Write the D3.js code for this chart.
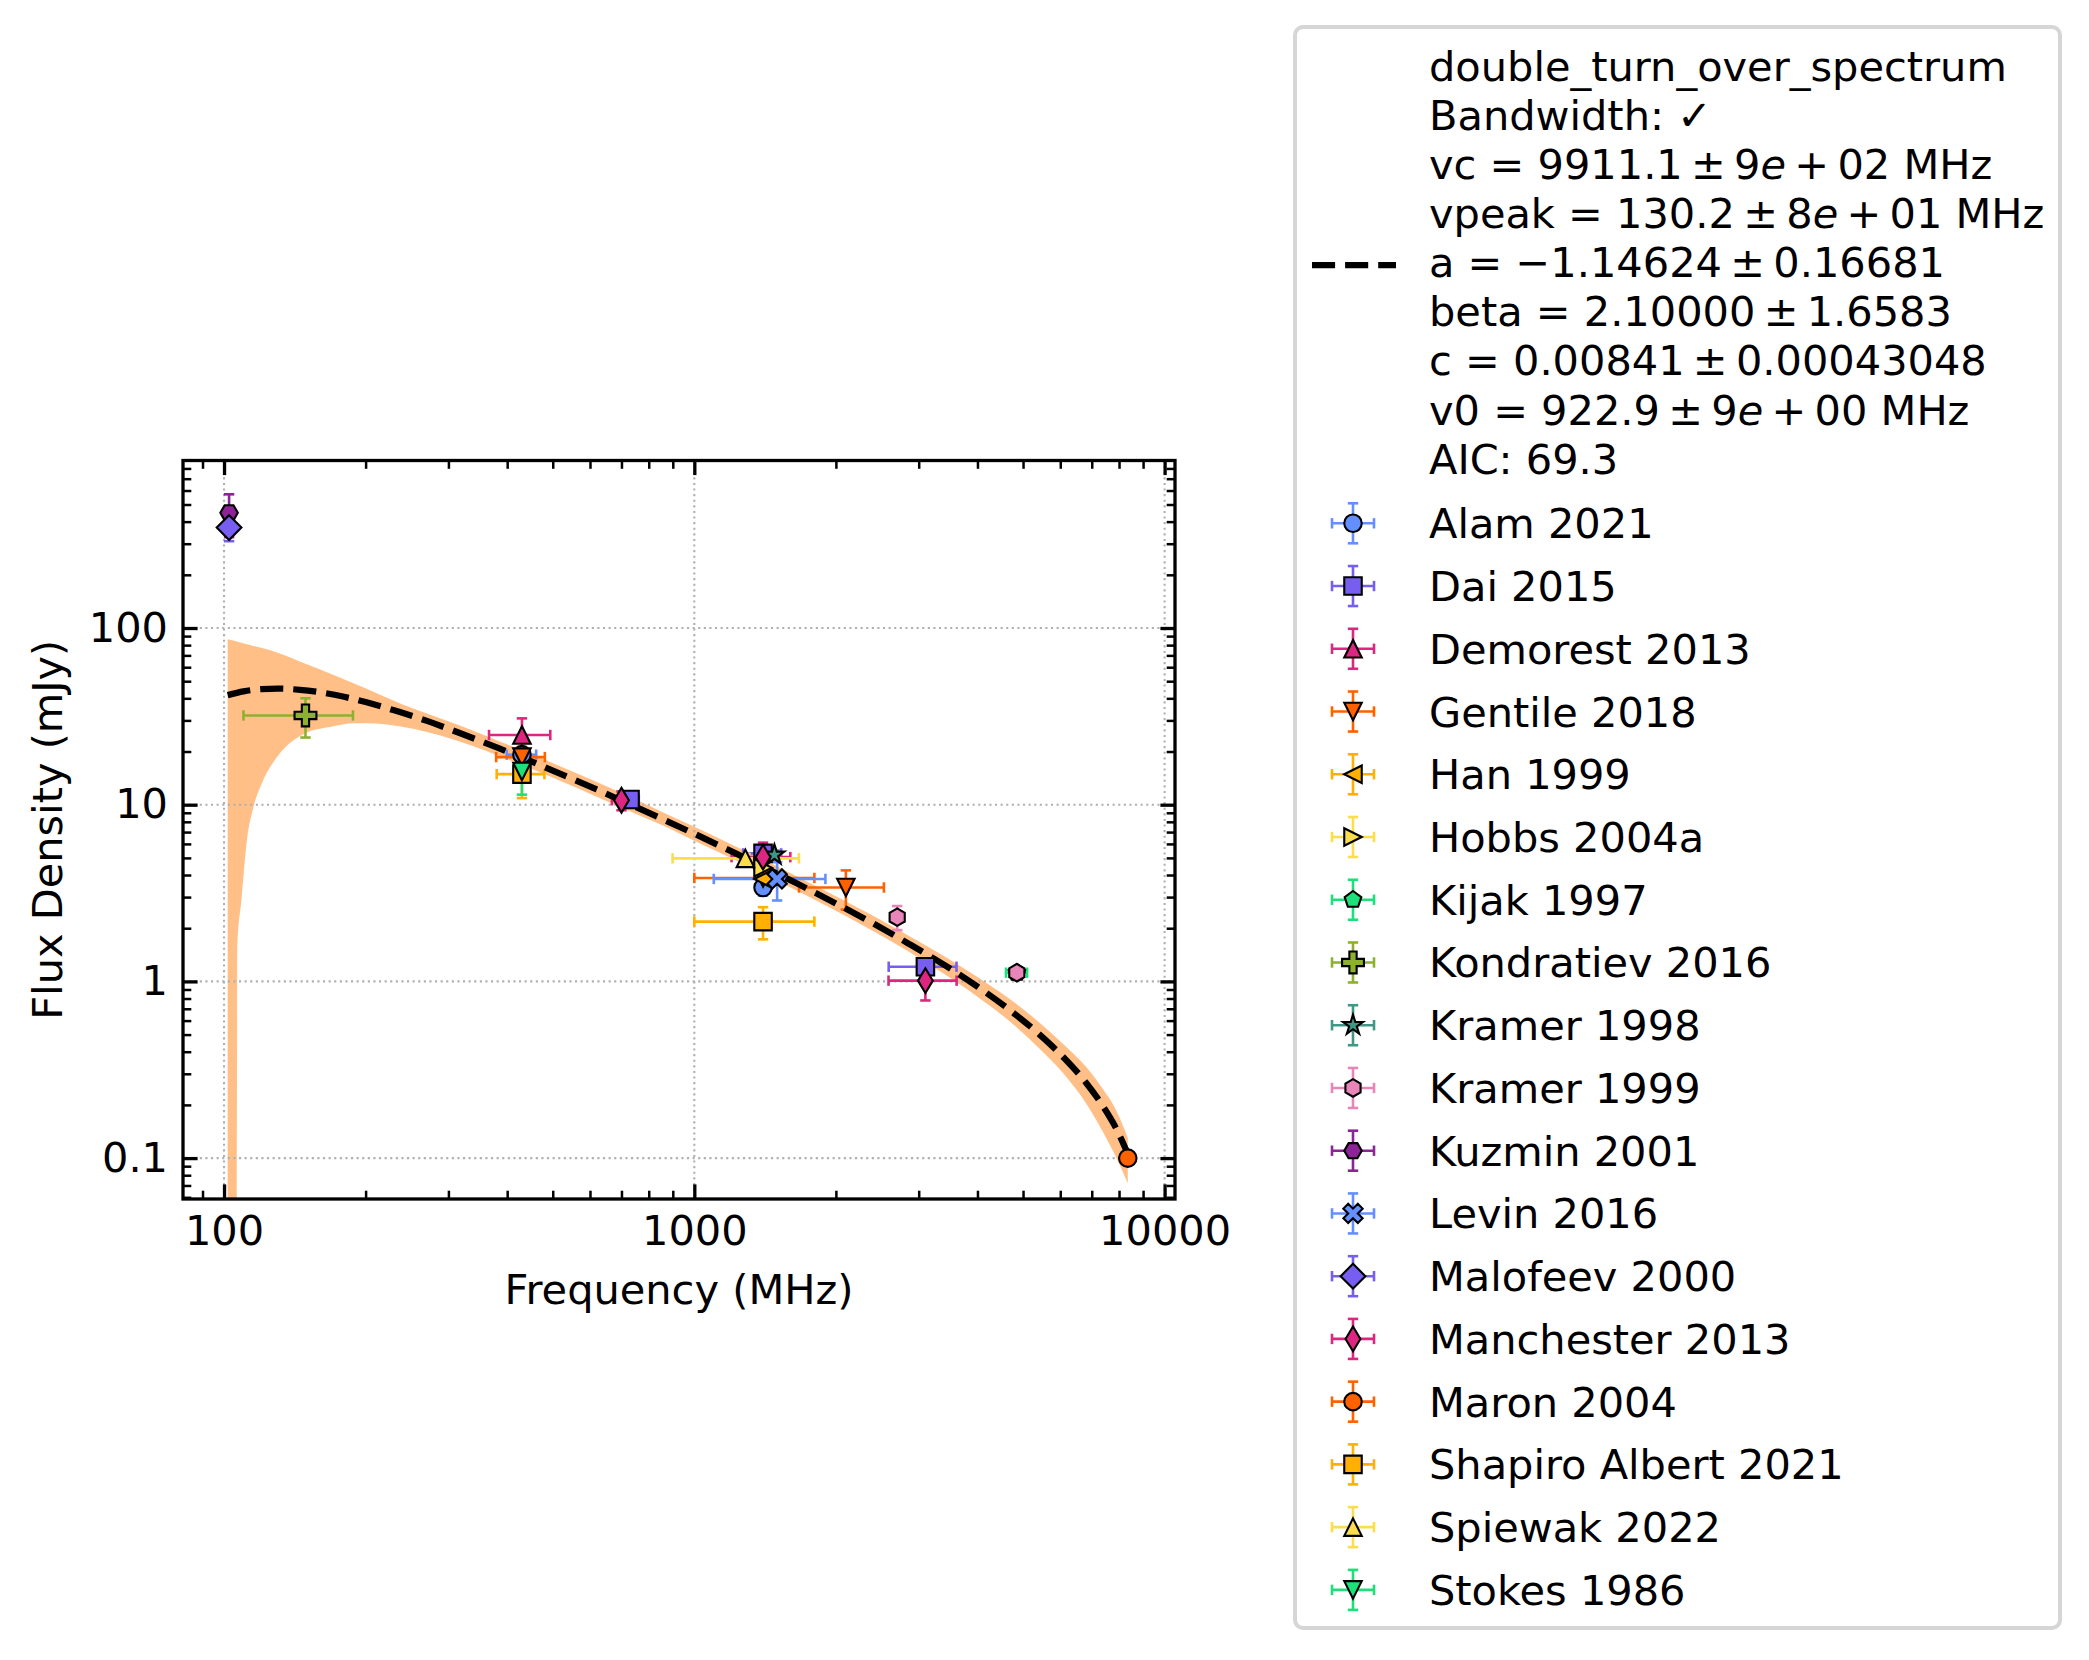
<!DOCTYPE html>
<html><head><meta charset="utf-8">
<script src="https://cdn.jsdelivr.net/npm/d3@7"></script>
<style>body{margin:0;background:#fff;} svg{display:block;font-family:"DejaVu Sans",sans-serif;}</style>
</head><body><svg id="chart" width="2089" height="1660"></svg>
<script>
// ---------------- data ----------------
const seriesNames = ["Alam 2021","Dai 2015","Demorest 2013","Gentile 2018","Han 1999","Hobbs 2004a","Kijak 1997","Kondratiev 2016","Kramer 1998","Kramer 1999","Kuzmin 2001","Levin 2016","Malofeev 2000","Manchester 2013","Maron 2004","Shapiro Albert 2021","Spiewak 2022","Stokes 1986"];
const seriesMarkers = ["o","s","^","v","<",">","p","P","*","h","H","X","D","d","o","s","^","v"];
const seriesColors = ["#648FFF","#785EF0","#DC267F","#FE6100","#FFB000","#FCDE4C","#1EE07A","#8DB12E","#3F9785","#E886BA","#8C2396","#648FFF","#785EF0","#DC267F","#FE6100","#FFB000","#FCDE4C","#1EE07A"];

// one entry per measurement
const pointSeries  = [0,    0,    1,    1,    1,    2,    3,    3,    3,    4,    5,    6,    7,   8,    9,    9,    10,    11,   12,    13,   13,   13,   14,   15,   15,   16,   17];
const pointFreq    = [430,  1400, 730,  1400, 3100, 430,  430,  1400, 2100, 1400, 1400, 4850, 149, 1480, 2700, 4850, 102.5, 1500, 102.5, 700,  1400, 3100, 8350, 430,  1400, 1284, 430];
const pointFlux    = [19.2, 3.4,  10.7, 5.3,  1.21, 24.8, 18.6, 3.85, 3.4,  3.8,  4.4,  1.12, 32,  5.2,  2.31, 1.12, 449,   3.8,  370,   10.6, 5.05, 1.01, 0.1,  14.9, 2.18, 4.97, 15.4];
const pointFreqErr = [31,   0,    32,   130,  510,  64,   51,   400,  430,  0,    0,    250,  39,  0,    0,    0,    0,     400,  0,     32,   200,  512,  0,    50,   400,  385,  0];
const pointFluxErr = [1.9,  0.34, 0.6,  0.3,  0.1,  6.0,  2.6,  0.4,  0.85, 0.4,  0.5,  0.06, 8,   0.3,  0.36, 0.06, 122,   0.93, 60,    1.3,  1.05, 0.23, 0.005,4.0,  0.45, 0.3,  4.0];

// fitted model curve and its uncertainty band (mJy)
const fitFreq = [101.8,110,120,130,145,160,180,200,230,270,320,380,450,530,620,730,850,1000,1200,1400,1650,2000,2400,2850,3400,4000,4700,5400,6100,6800,7400,7900,8350];
const fitFlux = [41.7,43.8,45.1,45.4,44.7,43.3,40.8,38.1,34.2,29.8,25.2,21.1,17.6,14.6,12.2,10.05,8.36,6.85,5.44,4.46,3.59,2.76,2.13,1.64,1.24,0.934,0.684,0.505,0.371,0.268,0.196,0.146,0.106];
const bandFreq  = [101.8,106.4,106.7,108.9,111.7,115.4,120,130,149,169,189,210,239,270,311,360,411,480,560,650,750,870,1000,1200,1400,1650,2000,2400,2850,3400,4000,4700,5400,6100,6800,7400,7900,8350];
const bandUpper = [86.3,83.8,83.6,82.4,81.0,79.2,77.2,72.5,62.8,55.0,48.5,43.0,37.0,32.8,28.6,24.6,21.3,18.0,15.1,12.7,10.7,8.9,7.5,5.95,4.89,3.94,3.03,2.35,1.82,1.39,1.06,0.79,0.59,0.44,0.33,0.245,0.185,0.13];
const bandLower = [0.001,0.03,1.58,2.9,6.1,9.6,13.0,18.8,25.4,27.6,28.9,28.8,27.6,25.8,23.2,20.2,17.6,14.9,12.5,10.5,8.9,7.5,6.25,4.97,4.07,3.27,2.51,1.93,1.48,1.10,0.82,0.59,0.42,0.30,0.205,0.14,0.10,0.072];

const fitLegendLines = [
  "double_turn_over_spectrum",
  "Bandwidth: \u2713",
  "vc = 9911.1\u2009\u00b1\u20099{e}\u2009+\u200902 MHz",
  "vpeak = 130.2\u2009\u00b1\u20098{e}\u2009+\u200901 MHz",
  "a = \u22121.14624\u2009\u00b1\u20090.16681",
  "beta = 2.10000\u2009\u00b1\u20091.6583",
  "c = 0.00841\u2009\u00b1\u20090.00043048",
  "v0 = 922.9\u2009\u00b1\u20099{e}\u2009+\u200900 MHz",
  "AIC: 69.3"
];

const xMajor = [100, 1000, 10000];
const xTickLabels = ["100", "1000", "10000"];
const yMajor = [0.1, 1, 10, 100];
const yTickLabels = ["0.1", "1", "10", "100"];
const xTitle = "Frequency (MHz)";
const yTitle = "Flux Density (mJy)";

// ---------------- layout ----------------
const W = 2089, H = 1660, FS = 41.5;
const M = {left: 183, right: 1175, top: 460.5, bottom: 1199};
const x = d3.scaleLog().domain([81.8, 10522]).range([M.left, M.right]);
const y = d3.scaleLog().domain([0.05868, 887.2]).range([M.bottom, M.top]);
const MS = 17.5, MEW = 2.1, ELW = 2.6, CAP = 5.2;
const markerScale = {P: 1.25, "*": 1.2, X: 1.1};

const svg = d3.select("#chart");
svg.append("rect").attr("width", W).attr("height", H).attr("fill", "#fff");
svg.append("defs").append("clipPath").attr("id", "clip").append("rect")
  .attr("x", M.left).attr("y", M.top).attr("width", M.right - M.left).attr("height", M.bottom - M.top);

function markerPath(t, s0) {
  const s = s0 * (markerScale[t] || 1);
  const r = s / 2, p = d3.path();
  const poly = pts => { p.moveTo(pts[0][0], pts[0][1]); for (let i = 1; i < pts.length; i++) p.lineTo(pts[i][0], pts[i][1]); p.closePath(); };
  const reg = (n, rot, rad) => d3.range(n).map(k => { const a = (rot + 360 * k / n) * Math.PI / 180; return [rad * Math.cos(a), rad * Math.sin(a)]; });
  switch (t) {
    case "o": p.moveTo(r, 0); p.arc(0, 0, r, 0, 2 * Math.PI); p.closePath(); break;
    case "s": poly([[-r, -r], [r, -r], [r, r], [-r, r]]); break;
    case "^": poly([[0, -r], [r, r], [-r, r]]); break;
    case "v": poly([[0, r], [r, -r], [-r, -r]]); break;
    case "<": poly([[-r, 0], [r, -r], [r, r]]); break;
    case ">": poly([[r, 0], [-r, -r], [-r, r]]); break;
    case "p": poly(reg(5, -90, r)); break;
    case "h": poly(reg(6, -90, r)); break;
    case "H": poly(reg(6, 0, r)); break;
    case "*": { const pts = []; for (let k = 0; k < 10; k++) { const a = (-90 + 36 * k) * Math.PI / 180; const rr = k % 2 ? r * 0.381966 : r; pts.push([rr * Math.cos(a), rr * Math.sin(a)]); } poly(pts); break; }
    case "P": poly([[-1,-3],[1,-3],[1,-1],[3,-1],[3,1],[1,1],[1,3],[-1,3],[-1,1],[-3,1],[-3,-1],[-1,-1]].map(([a, b]) => [a * s / 6, b * s / 6])); break;
    case "X": poly([[-1,-2],[0,-1],[1,-2],[2,-1],[1,0],[2,1],[1,2],[0,1],[-1,2],[-2,1],[-1,0],[-2,-1]].map(([a, b]) => [a * s / 4, b * s / 4])); break;
    case "D": { const d = s * Math.SQRT1_2; poly([[0, -d], [d, 0], [0, d], [-d, 0]]); break; }
    case "d": { const d = s * Math.SQRT1_2; poly([[0, -d], [0.6 * d, 0], [0, d], [-0.6 * d, 0]]); break; }
  }
  return p.toString();
}

// ---------------- band + grid ----------------
const plotClip = svg.append("g").attr("clip-path", "url(#clip)");
const bandIdx = d3.range(bandFreq.length);
plotClip.append("path")
  .attr("d", d3.area().curve(d3.curveMonotoneX)
    .x(i => x(bandFreq[i])).y0(i => y(bandLower[i])).y1(i => y(bandUpper[i]))(bandIdx))
  .attr("fill", "#FFBF86");

const grid = svg.append("g").attr("stroke", "#b0b0b0").attr("stroke-width", 2.1).attr("stroke-dasharray", "2.1,3.5");
xMajor.forEach(v => { if (x(v) > M.left && x(v) < M.right) grid.append("line").attr("x1", x(v)).attr("x2", x(v)).attr("y1", M.top).attr("y2", M.bottom); });
yMajor.forEach(v => grid.append("line").attr("y1", y(v)).attr("y2", y(v)).attr("x1", M.left).attr("x2", M.right));

// ---------------- error bars ----------------
const eb = svg.append("g").attr("stroke-width", ELW).attr("fill", "none");
pointFreq.forEach((f, i) => {
  const c = seriesColors[pointSeries[i]];
  const cx = x(f), cy = y(pointFlux[i]);
  const se = pointFluxErr[i], fe = pointFreqErr[i];
  if (se > 0) {
    const y1 = y(pointFlux[i] + se), y2 = y(Math.max(pointFlux[i] - se, 1e-4));
    eb.append("line").attr("x1", cx).attr("x2", cx).attr("y1", y1).attr("y2", y2).attr("stroke", c);
    [y1, y2].forEach(yy => eb.append("line").attr("x1", cx - CAP).attr("x2", cx + CAP).attr("y1", yy).attr("y2", yy).attr("stroke", c));
  }
  if (fe > 0) {
    const x1 = x(f - fe), x2 = x(f + fe);
    eb.append("line").attr("x1", x1).attr("x2", x2).attr("y1", cy).attr("y2", cy).attr("stroke", c);
    [x1, x2].forEach(xx => eb.append("line").attr("x1", xx).attr("x2", xx).attr("y1", cy - CAP).attr("y2", cy + CAP).attr("stroke", c));
  }
});

// ---------------- fit line ----------------
const fitIdx = d3.range(fitFreq.length);
svg.append("g").attr("clip-path", "url(#clip)").append("path")
  .attr("d", d3.line().curve(d3.curveMonotoneX).x(i => x(fitFreq[i])).y(i => y(fitFlux[i]))(fitIdx))
  .attr("fill", "none").attr("stroke", "#000").attr("stroke-width", 6.25).attr("stroke-dasharray", "23.1,10");

// ---------------- markers ----------------
const mk = svg.append("g").attr("stroke", "#000").attr("stroke-width", MEW).attr("stroke-linejoin", "miter");
pointFreq.forEach((f, i) => {
  const s = pointSeries[i];
  mk.append("path").attr("d", markerPath(seriesMarkers[s], MS))
    .attr("transform", `translate(${x(f)},${y(pointFlux[i])})`).attr("fill", seriesColors[s]);
});

// ---------------- axes ----------------
const xMinor = [], yMinor = [];
[10, 100, 1000].forEach(d => d3.range(2, 10).forEach(k => { const v = k * d; if (v > x.domain()[0] && v < x.domain()[1]) xMinor.push(v); }));
[0.01, 0.1, 1, 10, 100].forEach(d => d3.range(2, 10).forEach(k => { const v = k * d; if (v > y.domain()[0] && v < y.domain()[1]) yMinor.push(v); }));

function styleAxis(g, w) {
  g.select(".domain").remove();
  g.selectAll(".tick line").attr("stroke", "#000").attr("stroke-width", w);
  g.selectAll("text").attr("font-size", FS).attr("font-family", "DejaVu Sans").attr("fill", "#000");
  g.attr("font-size", FS).attr("font-family", "DejaVu Sans");
}
const axes = [
  [d3.axisBottom(x), `translate(0,${M.bottom})`, xMajor, xMinor, (d, i) => xTickLabels[i], 17],
  [d3.axisTop(x), `translate(0,${M.top})`, xMajor, xMinor, () => "", 0],
  [d3.axisLeft(y), `translate(${M.left},0)`, yMajor, yMinor, (d, i) => yTickLabels[i], 15],
  [d3.axisRight(y), `translate(${M.right},0)`, yMajor, yMinor, () => "", 0]
];
axes.forEach(([gen, tr, maj, min, fmt, pad]) => {
  const gMin = svg.append("g").attr("transform", tr)
    .call(gen.tickValues(min).tickFormat(() => "").tickSizeInner(-8.3).tickSizeOuter(0));
  styleAxis(gMin, 2.5);
  const gMaj = svg.append("g").attr("transform", tr)
    .call(gen.tickValues(maj).tickFormat(fmt).tickSizeInner(-14.6).tickSizeOuter(0).tickPadding(pad));
  styleAxis(gMaj, 3.3);
});

svg.append("rect").attr("x", M.left).attr("y", M.top).attr("width", M.right - M.left).attr("height", M.bottom - M.top)
  .attr("fill", "none").attr("stroke", "#000").attr("stroke-width", 3.3);

svg.append("text").attr("x", (M.left + M.right) / 2).attr("y", 1304).attr("text-anchor", "middle")
  .attr("font-size", FS).text(xTitle);
svg.append("text").attr("transform", `translate(61.7,${(M.top + M.bottom) / 2}) rotate(-90)`).attr("text-anchor", "middle")
  .attr("font-size", FS).text(yTitle);

// ---------------- legend ----------------
const lg = svg.append("g");
lg.append("rect").attr("x", 1295).attr("y", 27).attr("width", 765).attr("height", 1601).attr("rx", 8)
  .attr("fill", "#fff").attr("stroke", "#d6d6d6").attr("stroke-width", 4);
const TX = 1429;
lg.append("line").attr("x1", 1312).attr("x2", 1396).attr("y1", 265).attr("y2", 265)
  .attr("stroke", "#000").attr("stroke-width", 6.25).attr("stroke-dasharray", "23.1,10");
fitLegendLines.forEach((s, i) => {
  const t = lg.append("text").attr("x", TX).attr("y", 80.5 + 49.15 * i).attr("font-size", FS);
  s.split(/(\{e\})/).forEach(part => {
    if (part === "{e}") t.append("tspan").attr("font-style", "italic").text("e");
    else if (part) t.append("tspan").text(part);
  });
});
const LY0 = 523.3, LDY = 62.74, HX = 1353;
seriesNames.forEach((name, k) => {
  const cy = LY0 + k * LDY, c = seriesColors[k];
  const h = lg.append("g").attr("stroke", c).attr("stroke-width", ELW);
  h.append("line").attr("x1", HX - 21).attr("x2", HX + 21).attr("y1", cy).attr("y2", cy);
  h.append("line").attr("x1", HX).attr("x2", HX).attr("y1", cy - 20).attr("y2", cy + 20);
  [HX - 21, HX + 21].forEach(xx => h.append("line").attr("x1", xx).attr("x2", xx).attr("y1", cy - CAP).attr("y2", cy + CAP));
  [cy - 20, cy + 20].forEach(yy => h.append("line").attr("x1", HX - CAP).attr("x2", HX + CAP).attr("y1", yy).attr("y2", yy));
  lg.append("path").attr("d", markerPath(seriesMarkers[k], MS)).attr("transform", `translate(${HX},${cy})`)
    .attr("fill", c).attr("stroke", "#000").attr("stroke-width", MEW);
  lg.append("text").attr("x", TX).attr("y", cy + 15).attr("font-size", FS).text(name);
});
</script></body></html>
